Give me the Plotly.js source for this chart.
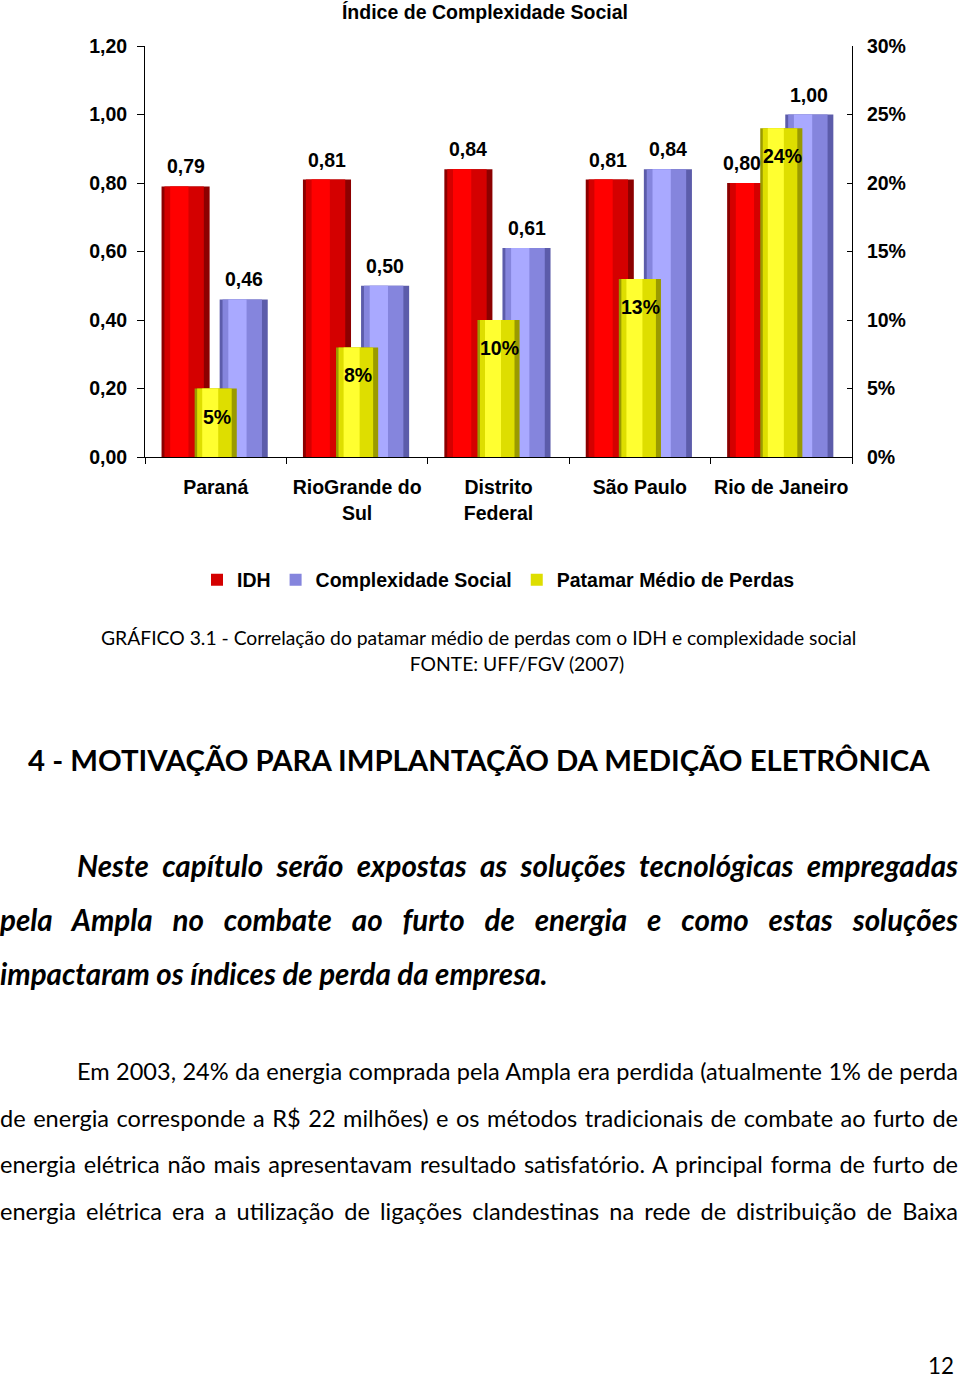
<!DOCTYPE html>
<html>
<head>
<meta charset="utf-8">
<script src="https://cdn.plot.ly/plotly-3.0.1.min.js"></script>
<style>
  html, body { margin:0; padding:0; background:#fff; }
  body { width:960px; height:1377px; position:relative; overflow:hidden; }
  #chart { position:absolute; left:0; top:0; width:960px; height:610px; }
  .ln { position:absolute; font-family: Lato, "Open Sans", "Noto Sans", sans-serif; color:#000; white-space:normal; }
  .meas { position:absolute; left:-5000px; top:0; white-space:nowrap; font-size:100px; }
</style>
</head>
<body>
<div id="chart"></div>

<div class="ln" id="cap1" style="font-weight:400">GRÁFICO 3.1 - Correlação do patamar médio de perdas com o IDH e complexidade social</div>
<div class="ln" id="cap2" style="font-weight:400">FONTE: UFF/FGV (2007)</div>
<div class="ln" id="head" style="font-weight:700">4 - MOTIVAÇÃO PARA IMPLANTAÇÃO DA MEDIÇÃO ELETRÔNICA</div>
<div class="ln it" id="it1" style="font-weight:700;font-style:italic">Neste capítulo serão expostas as soluções tecnológicas empregadas</div>
<div class="ln it" id="it2" style="font-weight:700;font-style:italic">pela Ampla no combate ao furto de energia e como estas soluções</div>
<div class="ln it" id="it3" style="font-weight:700;font-style:italic">impactaram os índices de perda da empresa.</div>
<div class="ln bd" id="bd1" style="font-weight:400">Em 2003, 24% da energia comprada pela Ampla era perdida (atualmente 1% de perda</div>
<div class="ln bd" id="bd2" style="font-weight:400">de energia corresponde a R$ 22 milhões) e os métodos tradicionais de combate ao furto de</div>
<div class="ln bd" id="bd3" style="font-weight:400">energia elétrica não mais apresentavam resultado satisfatório. A principal forma de furto de</div>
<div class="ln bd" id="bd4" style="font-weight:400">energia elétrica era a utilização de ligações clandestinas na rede de distribuição de Baixa</div>
<div class="ln" id="pg" style="font-weight:400">12</div>

<script>
// ---------------- chart data ----------------
const categories = ['Paraná', 'RioGrande do<br>Sul', 'Distrito<br>Federal', 'São Paulo', 'Rio de Janeiro'];
const idh = [0.79, 0.81, 0.84, 0.81, 0.80];
const complexidade = [0.46, 0.50, 0.61, 0.84, 1.00];
const perdas = [5, 8, 10, 13, 24];          // Patamar Médio de Perdas (%)
const seriesNames = ['IDH', 'Complexidade Social', 'Patamar Médio de Perdas'];
const leftTicks = [0, 0.2, 0.4, 0.6, 0.8, 1.0, 1.2];
const rightTicks = [0, 5, 10, 15, 20, 25, 30];

// ---------------- styling ----------------
const FONT = '"Liberation Sans", Arial, Helvetica, sans-serif';
const FS = 19.5;
const layers = [[0, 1], [0.06, 0.88], [0.18, 0.56]];   // cylinder shading bands
const styles = {
  idh:   {off: -0.383, w: 0.34, colors: ['#8c0000', '#d40000', '#ff0000'], axis: 'y'},
  comp:  {off:  0.028, w: 0.34, colors: ['#5c5caa', '#8585dd', '#a9a9ff'], axis: 'y'},
  perd:  {off: -0.149, w: 0.298, colors: ['#9a9a00', '#dede00', '#ffff30'], axis: 'y2'}
};
// label nudges (pixels) for crowded labels, by category index
const idhLabelShift = [0, 0, 0, -2, -9];

function layeredTraces(values, name, st) {
  return layers.map((b, k) => ({
    type: 'bar',
    x: categories,
    y: values,
    name: name,
    yaxis: st.axis,
    offset: st.off + b[0] * st.w,
    width: (b[1] - b[0]) * st.w,
    marker: {color: st.colors[k], line: {width: 0}},
    showlegend: k === 1,
    hoverinfo: 'skip'
  }));
}

const traces = [
  ...layeredTraces(idh, seriesNames[0], styles.idh),
  ...layeredTraces(complexidade, seriesNames[1], styles.comp),
  ...layeredTraces(perdas, seriesNames[2], styles.perd)
];

const fmt2 = v => v.toFixed(2).replace('.', ',');
const annotations = [];
categories.forEach((c, i) => {
  annotations.push({x: i + styles.idh.off + styles.idh.w / 2, y: idh[i], xref: 'x', yref: 'y',
    text: fmt2(idh[i]), showarrow: false, yanchor: 'bottom', yshift: 7, xshift: idhLabelShift[i]});
  annotations.push({x: i + styles.comp.off + styles.comp.w / 2, y: complexidade[i], xref: 'x', yref: 'y',
    text: fmt2(complexidade[i]), showarrow: false, yanchor: 'bottom', yshift: 7});
  annotations.push({x: i + styles.perd.off + styles.perd.w / 2, y: perdas[i], xref: 'x', yref: 'y2',
    text: perdas[i] + '%', showarrow: false, yanchor: 'top', yshift: -15, xshift: 1});
});

const H = 610;
const layout = {
  width: 960, height: H,
  margin: {l: 145, r: 108, t: 46, b: H - 458, pad: 0},
  paper_bgcolor: '#fff', plot_bgcolor: '#fff',
  separators: ',.',
  barmode: 'overlay',
  font: {family: FONT, size: FS, color: '#000', weight: 'bold'},
  title: {text: 'Índice de Complexidade Social', font: {family: FONT, size: FS, weight: 'bold', color: '#000'},
          xref: 'container', x: 485 / 960, xanchor: 'center', yref: 'container', y: 1 - 12 / H, yanchor: 'middle'},
  xaxis: {type: 'category', range: [-0.5, 4.5], showline: true, linecolor: '#000', linewidth: 1,
          ticks: 'outside', ticklen: 6, tickcolor: '#000', tickson: 'boundaries', tickangle: 0,
          showgrid: false, zeroline: false, ticklabelstandoff: 13, fixedrange: true},
  yaxis: {range: [0, 1.2], tickvals: leftTicks, tickformat: '.2f', showline: true, linecolor: '#000', linewidth: 1,
          ticks: 'outside', ticklen: 7, tickcolor: '#000', showgrid: false, zeroline: false,
          ticklabelstandoff: 6, fixedrange: true},
  yaxis2: {range: [0, 30], tickvals: rightTicks, ticktext: rightTicks.map(v => v + '%'), overlaying: 'y', side: 'right',
           showline: true, linecolor: '#000', linewidth: 1, ticks: 'inside', ticklen: 5, tickcolor: '#000',
           showgrid: false, zeroline: false, ticklabelstandoff: 10, fixedrange: true},
  legend: {orientation: 'h', x: 0.5, xanchor: 'center', y: -(580 - 458) / 412, yanchor: 'middle',
           font: {family: FONT, size: FS, weight: 'bold', color: '#000'}, bgcolor: 'rgba(0,0,0,0)'},
  annotations: annotations,
  showlegend: true
};

Plotly.newPlot('chart', traces, layout, {displayModeBar: false, staticPlot: true});

// ---------------- page text layout ----------------
function natW(el) {
  const s = document.createElement('span');
  s.className = 'meas';
  s.style.fontFamily = getComputedStyle(el).fontFamily;
  s.style.fontWeight = el.style.fontWeight;
  s.style.fontStyle = el.style.fontStyle || 'normal';
  s.textContent = el.textContent;
  document.body.appendChild(s);
  const w = s.getBoundingClientRect().width;
  s.remove();
  return w; // width at 100px
}
function place(id, fs, left, cy, width, just, anchor, lhf) {
  const el = document.getElementById(id);
  const lh = fs * (lhf || 1.2);
  el.style.fontSize = fs + 'px';
  el.style.lineHeight = lh + 'px';
  el.style.top = (cy - lh / 2) + 'px';
  if (just) {
    el.style.left = left + 'px';
    el.style.width = width + 'px';
    el.style.textAlign = 'justify';
    el.style.textAlignLast = 'justify';
  } else {
    el.style.whiteSpace = 'nowrap';
    const w = natW(el) * fs / 100;
    let x = left;
    if (anchor === 'center') x = left - w / 2;
    if (anchor === 'right') x = left - w;
    el.style.left = x + 'px';
  }
}
function layoutText() {
  const capFs = 100 * 756 / natW(document.getElementById('cap1'));
  place('cap1', capFs, 479, 638, 0, false, 'center');
  place('cap2', capFs, 517, 664, 0, false, 'center');
  const headFs = 100 * 902 / natW(document.getElementById('head'));
  place('head', headFs, 28, 760, 0, false, 'left');
  const itFs = Math.min(100 * 548 / natW(document.getElementById('it3')),
                        99 * 881 / natW(document.getElementById('it1')),
                        99 * 958 / natW(document.getElementById('it2')));
  place('it1', itFs, 77, 866, 881, true);
  place('it2', itFs, 0, 920, 958, true);
  place('it3', itFs, 0, 974, 0, false, 'left');
  const bdFs = Math.min(99.5 * 881 / natW(document.getElementById('bd1')),
                        99.5 * 958 / natW(document.getElementById('bd2')),
                        99.5 * 958 / natW(document.getElementById('bd3')),
                        99.5 * 958 / natW(document.getElementById('bd4')));
  place('bd1', bdFs, 77, 1071, 881, true);
  place('bd2', bdFs, 0, 1118, 958, true);
  place('bd3', bdFs, 0, 1164, 958, true);
  place('bd4', bdFs, 0, 1211, 958, true);
  place('pg', bdFs * 0.95, 954, 1366, 0, false, 'right', 0.95);
}
layoutText();
</script>
</body>
</html>
